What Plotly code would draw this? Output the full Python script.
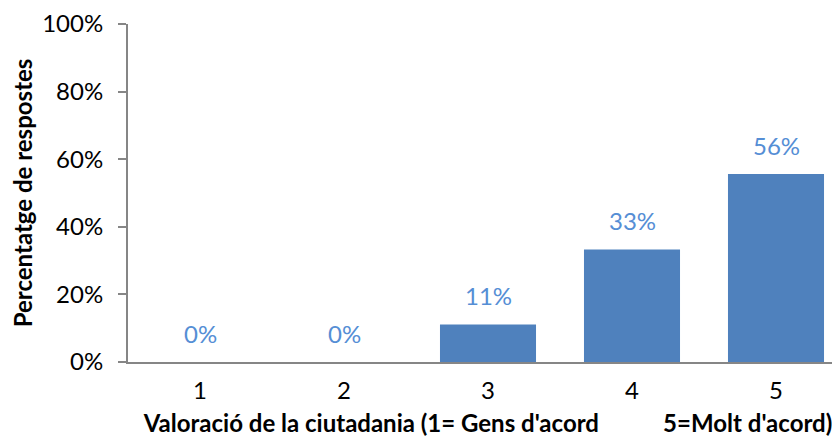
import plotly.graph_objects as go

categories = ["1", "2", "3", "4", "5"]
values = [0.0, 0.0, 11.1, 33.3, 55.6]
labels = ["0%", "0%", "11%", "33%", "56%"]
y_ticks = [0, 20, 40, 60, 80, 100]
y_ticklabels = ["0%", "20%", "40%", "60%", "80%", "100%"]

FONT = "Lato, Carlito, Calibri, sans-serif"
x_pos = [1, 2, 3, 4, 5]

fig = go.Figure()
fig.add_trace(go.Bar(
    x=x_pos, y=values, width=0.667,
    marker=dict(color="#4f81bd", line=dict(width=0)),
    hoverinfo="skip",
))
for xv, yv, lab in zip(x_pos, values, labels):
    fig.add_annotation(x=xv, y=yv, text=lab, showarrow=False, yanchor="bottom",
                       yshift=12, font=dict(family=FONT, size=24, color="#558ed5"))

fig.update_layout(
    width=840, height=441,
    margin=dict(l=120, r=0, t=16, b=87),
    paper_bgcolor="white", plot_bgcolor="white",
    showlegend=False,
    font=dict(family=FONT, size=24, color="#000000"),
)
fig.update_xaxes(
    range=[0.5, 5.5], tickvals=x_pos, ticktext=categories,
    showline=True, linecolor="#868686", linewidth=2,
    ticks="", showgrid=False, zeroline=False,
    tickfont=dict(family=FONT, size=24), ticklabelstandoff=6,
    title=dict(text="Valoració de la ciutadania (1= Gens d'acord" + "\u00a0" * 11 + "5=Molt d'acord)",
               font=dict(family=FONT, size=24, color="#000000", weight="bold"), standoff=12),
)
fig.update_yaxes(
    range=[0, 100], tickvals=y_ticks, ticktext=y_ticklabels,
    showline=True, linecolor="#868686", linewidth=2,
    ticks="outside", ticklen=8, tickcolor="#868686", tickwidth=2,
    showgrid=False, zeroline=False,
    tickfont=dict(family=FONT, size=24), ticklabelstandoff=10,
    title=dict(text="Percentatge de respostes",
               font=dict(family=FONT, size=24, color="#000000", weight="bold"), standoff=15),
)

fig.write_html("out.html")
